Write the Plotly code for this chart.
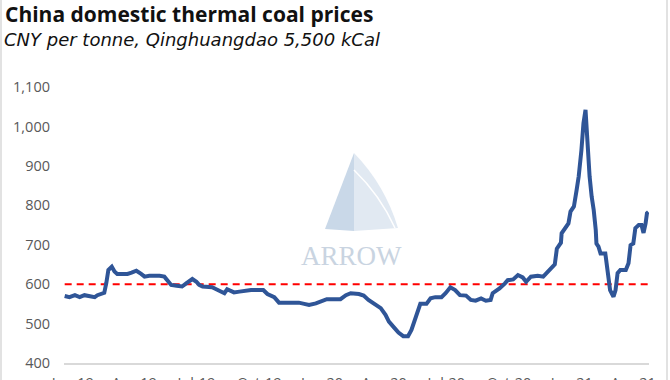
import plotly.graph_objects as go

dates = ["2018-12-20","2018-12-27","2019-01-04","2019-01-11","2019-01-18","2019-01-26","2019-02-02","2019-02-06",
"2019-02-12","2019-02-16","2019-02-19","2019-02-22","2019-02-27","2019-03-03","2019-03-07","2019-03-15","2019-03-22",
"2019-03-28","2019-04-04","2019-04-11","2019-04-16","2019-04-23","2019-04-30","2019-05-08","2019-05-15","2019-05-19",
"2019-05-25","2019-06-02","2019-06-10","2019-06-16","2019-06-22","2019-06-25","2019-07-01","2019-07-05","2019-07-10",
"2019-07-17","2019-07-24","2019-07-30","2019-08-06","2019-08-11","2019-08-15","2019-08-21","2019-08-25","2019-09-02",
"2019-09-09","2019-09-19","2019-10-01","2019-10-07","2019-10-13","2019-10-23","2019-10-30","2019-11-14","2019-11-28",
"2019-12-06","2019-12-13","2019-12-23","2020-01-01","2020-01-08","2020-01-21","2020-01-28","2020-02-05","2020-02-12",
"2020-02-24","2020-03-02","2020-03-09","2020-03-20","2020-03-27","2020-04-03","2020-04-08","2020-04-15","2020-04-22",
"2020-04-29","2020-05-06","2020-05-11","2020-05-17","2020-05-24","2020-06-02","2020-06-08","2020-06-15","2020-06-24",
"2020-06-30","2020-07-07","2020-07-14","2020-07-21","2020-07-30","2020-08-06","2020-08-13","2020-08-21","2020-08-28",
"2020-09-04","2020-09-07","2020-09-17","2020-09-25","2020-09-29","2020-10-07","2020-10-14","2020-10-21","2020-10-26",
"2020-11-02","2020-11-12","2020-11-20","2020-11-27","2020-12-02","2020-12-07","2020-12-10","2020-12-16","2020-12-17",
"2020-12-23","2020-12-27","2020-12-30","2021-01-04","2021-01-08","2021-01-11","2021-01-15","2021-01-18","2021-01-21",
"2021-01-22","2021-01-25","2021-01-27","2021-01-30","2021-02-02","2021-02-05","2021-02-06","2021-02-09","2021-02-12",
"2021-02-19","2021-02-21","2021-02-24","2021-02-26","2021-03-03","2021-03-06","2021-03-09","2021-03-13","2021-03-21",
"2021-03-25","2021-03-28","2021-04-01","2021-04-04","2021-04-09","2021-04-13","2021-04-16","2021-04-19","2021-04-21",
"2021-04-23"]

prices = [570,567,572,567,572,568,567,572,
577,578,603,636,644,632,626,626,626,
629,634,626,619,621,622,621,619,609,
598,596,594,602,609,613,606,598,594,
592,592,587,581,577,587,583,579,581,
583,585,585,585,575,567,553,553,553,
550,547,551,558,562,562,562,572,577,
575,571,560,547,539,522,505,491,477,
468,468,484,513,550,550,564,567,567,
577,592,585,572,571,560,558,564,558,
560,577,589,602,610,612,623,617,606,
619,621,619,632,644,650,690,705,729,
744,754,784,797,839,873,940,1008,1042,
1008,923,873,822,788,737,703,695,678,
678,653,610,585,568,585,628,636,636,
653,699,703,742,750,750,730,754,780,
783]

threshold = 600
threshold_dates = [dates[0], dates[-1]]

x_ticks = ["2019-01-01","2019-04-01","2019-07-01","2019-10-01","2020-01-01","2020-04-01",
           "2020-07-01","2020-10-01","2021-01-01","2021-04-01"]
x_ticklabels = ["Jan-19","Apr-19","Jul-19","Oct-19","Jan-20","Apr-20","Jul-20","Oct-20","Jan-21","Apr-21"]
y_ticks = [400, 500, 600, 700, 800, 900, 1000, 1100]

title = "China domestic thermal coal prices"
subtitle = "CNY per tonne, Qinghuangdao 5,500 kCal"

W, H = 670, 380
L, R, T, B = 64, 21, 87, 17
pw, ph = W - L - R, H - T - B

def px(x):
    return (x - L) / pw

def py(y):
    return (H - B - y) / ph

fig = go.Figure()
fig.add_trace(go.Scatter(x=threshold_dates, y=[threshold, threshold], mode="lines",
                         line=dict(color="#ff0000", width=2, dash="7px,5px"), hoverinfo="skip"))
fig.add_trace(go.Scatter(x=dates, y=prices, mode="lines",
                         line=dict(color="#2f5597", width=4)))

grey = "#595959"
fig.update_layout(
    width=W, height=H, showlegend=False,
    margin=dict(l=L, r=R, t=T, b=B),
    paper_bgcolor="white", plot_bgcolor="white",
    font=dict(family="Open Sans", color=grey, size=14.5),
    xaxis=dict(type="date", range=["2018-12-19", "2021-04-24"], tickvals=x_ticks, ticktext=x_ticklabels,
               showgrid=False, zeroline=False, showline=True, linecolor="#d9d9d9", linewidth=1.5,
               ticks="", ticklabelstandoff=6, automargin=False, tickfont=dict(size=14.5, color=grey)),
    yaxis=dict(range=[400, 1100], tickvals=y_ticks, tickformat=",", showgrid=False, zeroline=False,
               showline=False, ticks="", ticklabelstandoff=13, automargin=False,
               tickfont=dict(size=14.5, color=grey)),
)

# watermark
fig.add_shape(type="path", xref="paper", yref="paper", layer="below", line=dict(width=0),
              fillcolor="#c9d8e8",
              path=f"M {px(354)},{py(153)} L {px(325)},{py(229)} L {px(354)},{py(231)} Z")
fig.add_shape(type="path", xref="paper", yref="paper", layer="below", line=dict(width=0),
              fillcolor="#e1e9f2",
              path=f"M {px(354)},{py(153)} Q {px(385)},{py(185)} {px(398)},{py(228)} L {px(354)},{py(231)} Z")
fig.add_shape(type="path", xref="paper", yref="paper", layer="below", line=dict(width=1.5, color="white"),
              path=f"M {px(354)},{py(170)} Q {px(380)},{py(195)} {px(395)},{py(228)}")
fig.add_annotation(xref="paper", yref="paper", x=px(351), y=py(256), text="ARROW", showarrow=False,
                   font=dict(family="Liberation Serif", size=27, color="#c9d4e1"), xanchor="center", yanchor="middle")

fig.add_annotation(xref="paper", yref="paper", x=px(3), y=py(14), text=f"<b>{title}</b>", showarrow=False,
                   xanchor="left", yanchor="middle", font=dict(family="Open Sans", size=21, color="#111111"))
fig.add_annotation(xref="paper", yref="paper", x=px(2), y=py(40), text=f"<i>{subtitle}</i>", showarrow=False,
                   xanchor="left", yanchor="middle", font=dict(family="DejaVu Sans", size=18, color="#111111"))

# chart border
fig.add_shape(type="rect", xref="paper", yref="paper", x0=px(1), x1=px(667), y0=py(395), y1=py(-10),
              line=dict(color="#d9d9d9", width=1.5), layer="below")

fig.write_html("out.html", config={"displayModeBar": False},
               post_script="document.body.style.margin='0';document.body.style.overflow='hidden';")
